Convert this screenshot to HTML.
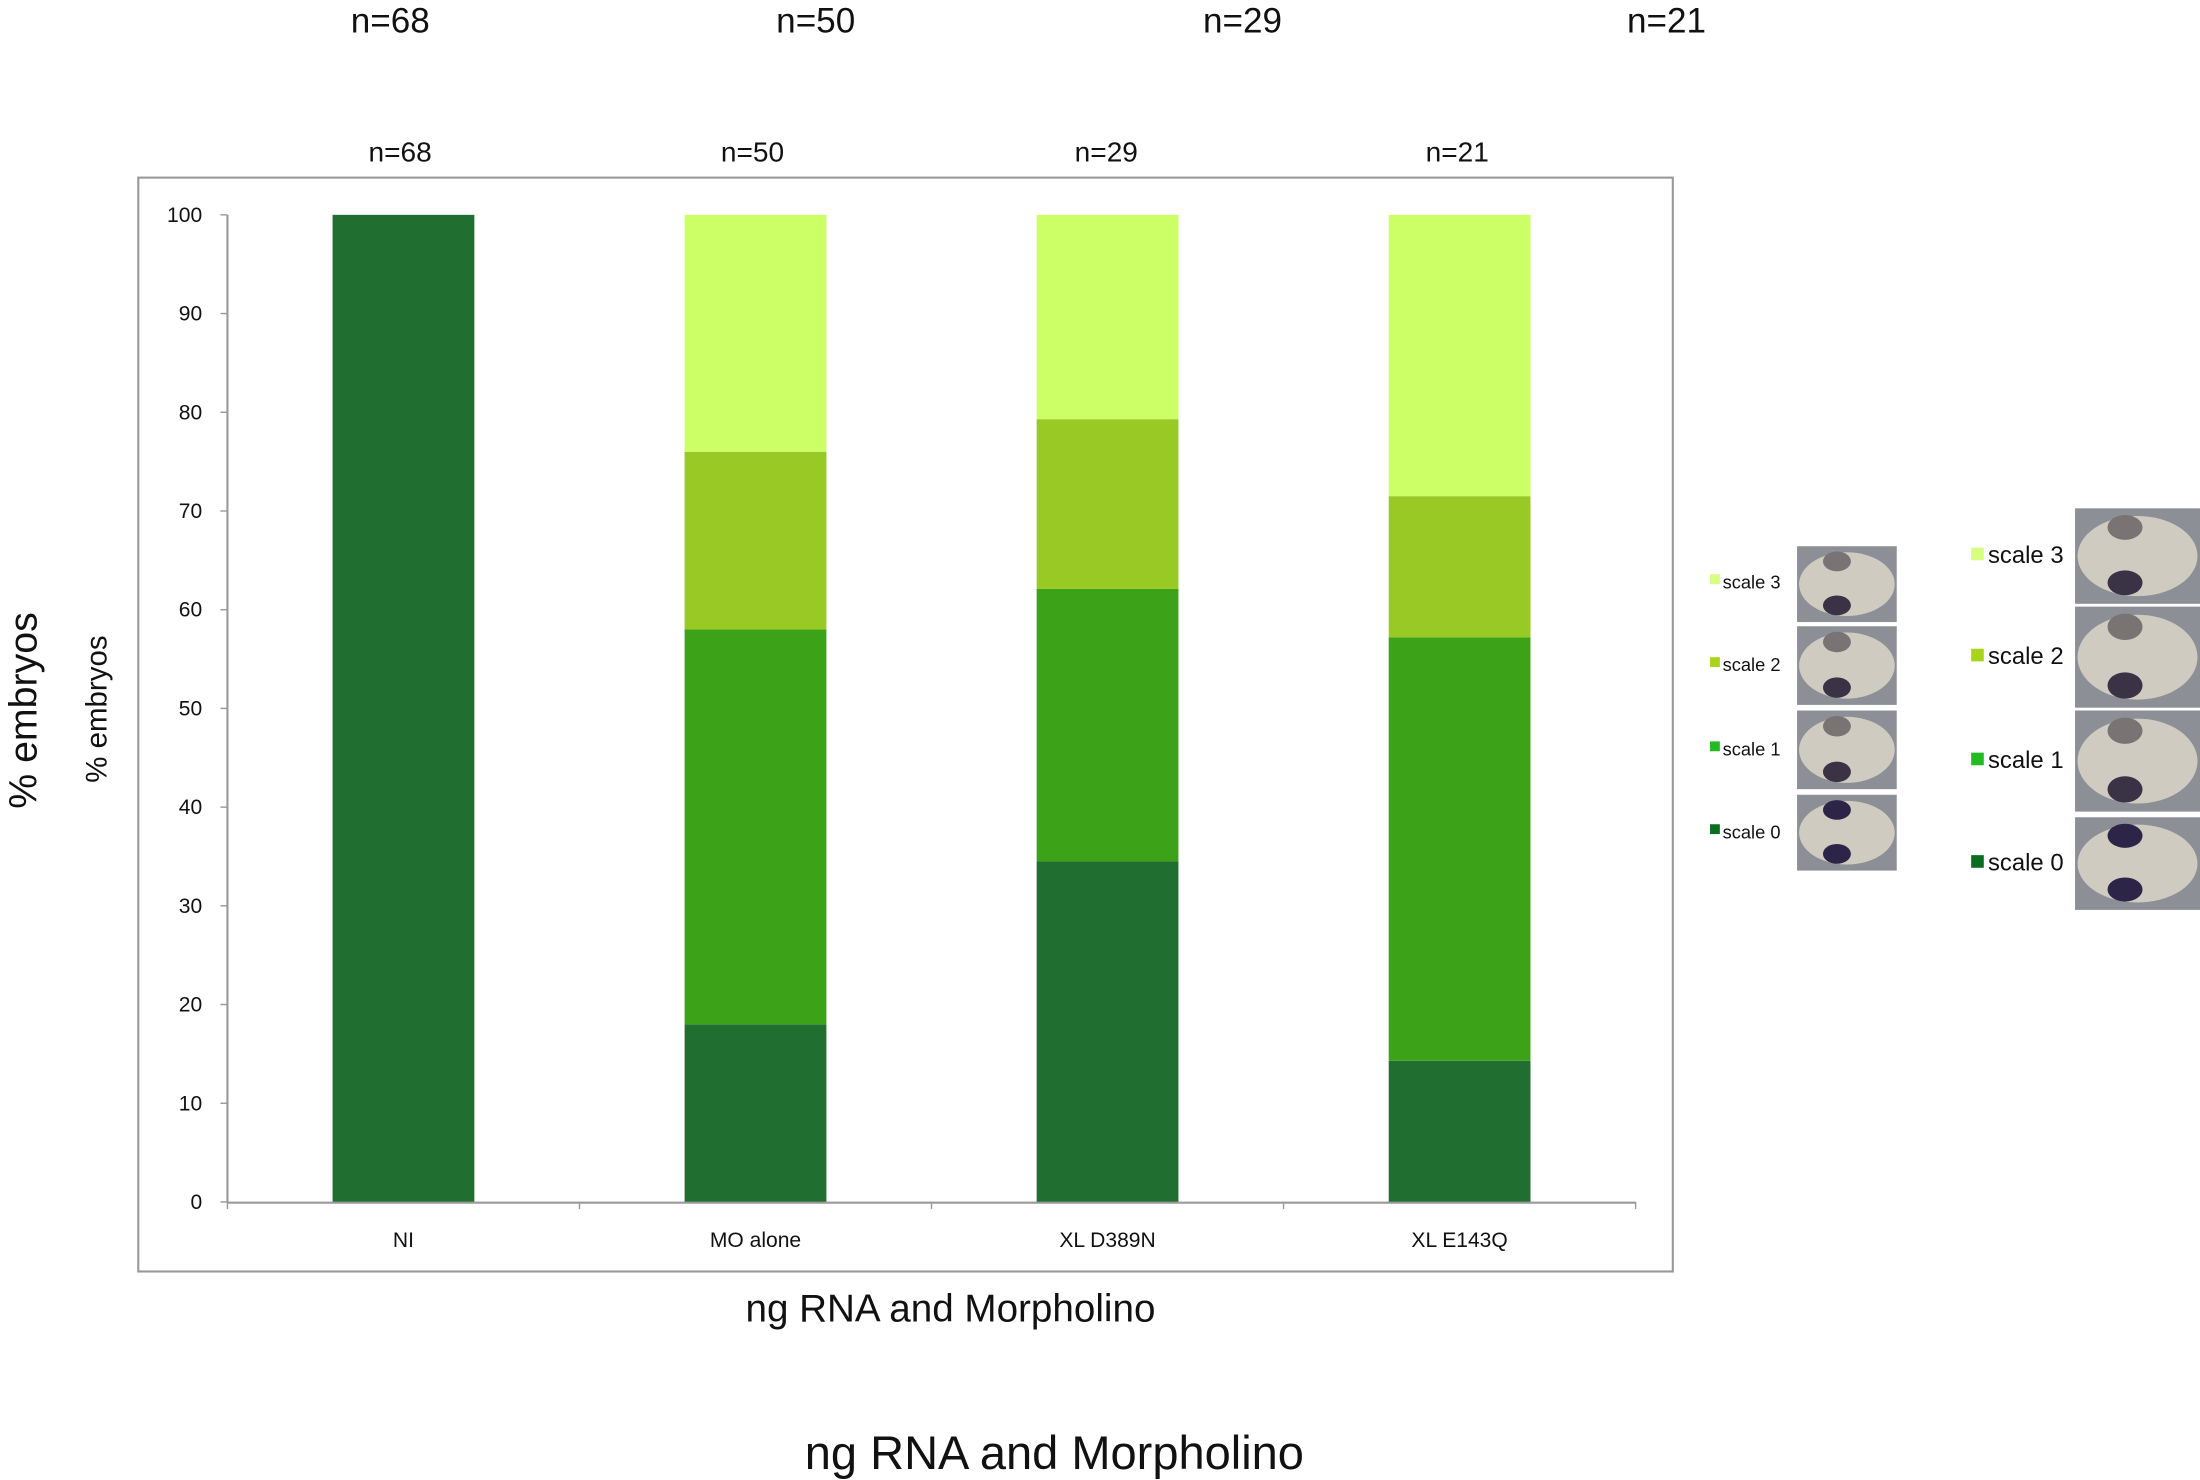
<!DOCTYPE html>
<html><head><meta charset="utf-8"><style>
html,body{margin:0;padding:0;background:#fff;}
svg{display:block;font-family:"Liberation Sans",sans-serif;}
</style></head><body>
<svg id="chart" width="2200" height="1480" viewBox="0 0 1567 1054" preserveAspectRatio="none" xmlns="http://www.w3.org/2000/svg">
<g font-size="25" text-anchor="middle" fill="#111">
<text x="278" y="23">n=68</text>
<text x="581" y="23">n=50</text>
<text x="885" y="23">n=29</text>
<text x="1187" y="23">n=21</text>
</g>
<g font-size="20" text-anchor="middle" fill="#111">
<text x="285" y="115">n=68</text>
<text x="536" y="115">n=50</text>
<text x="788" y="115">n=29</text>
<text x="1038" y="115">n=21</text>
</g>
<rect x="98.5" y="126.5" width="1093" height="779" fill="none" stroke="#999" stroke-width="1.5"/>
<g id="plot"></g>
<text x="677" y="941" font-size="27.5" text-anchor="middle" fill="#111">ng RNA and Morpholino</text>
<text x="751" y="1046" font-size="33.5" text-anchor="middle" fill="#111">ng RNA and Morpholino</text>
<text transform="translate(26,506) rotate(-90)" font-size="28" text-anchor="middle" fill="#111">% embryos</text>
<text transform="translate(76,505) rotate(-90)" font-size="21" text-anchor="middle" fill="#111">% embryos</text>
<g id="legend"></g>
</svg>
<script>
const categories = ["NI","MO alone","XL D389N","XL E143Q"];
const scale0 = [100, 18, 34.5, 14.3];
const scale1 = [0, 40, 27.6, 42.9];
const scale2 = [0, 18, 17.2, 14.3];
const scale3 = [0, 24, 20.7, 28.5];
const yTicks = [0,10,20,30,40,50,60,70,80,90,100];
const seriesNames = ["scale 0","scale 1","scale 2","scale 3"];

const NS = "http://www.w3.org/2000/svg";
const colors = ["#206e30","#3ca318","#98c925","#ccff66"];
const legendColors = ["#0b6e1e","#22bb22","#a8d41c","#d4ff80"];
const x0 = 162, x1 = 1165, yBase = 856, yTop = 153;
const band = (x1 - x0) / categories.length;
const xC = i => x0 + band * (i + 0.5);
const yS = v => yBase - (yBase - yTop) * v / 100;
const plot = document.getElementById('plot');
function mk(tag, attrs, parent){ const e=document.createElementNS(NS,tag); for(const k in attrs) e.setAttribute(k,attrs[k]); parent.appendChild(e); return e; }

const series = [scale0, scale1, scale2, scale3];
categories.forEach((c,i)=>{
  let acc = 0;
  series.forEach((s,si)=>{
    const v = s[i];
    if (v > 0) {
      const r = mk('rect',{x:xC(i)-50.5,y:yS(acc+v),width:101,height:yS(acc)-yS(acc+v),fill:colors[si]},plot);
      
      
    }
    acc += v;
  });
  const t = mk('text',{x:xC(i),y:888,'font-size':15,'text-anchor':'middle',fill:'#111'},plot);
  t.textContent = c;
  
  
});
const ax = mk('line',{x1:x0,y1:yBase+0.5,x2:x1,y2:yBase+0.5,stroke:'#999','stroke-width':1.5},plot);


const ay = mk('line',{x1:x0,y1:yTop,x2:x0,y2:yBase,stroke:'#999','stroke-width':1.5},plot);


for (let i=0;i<=categories.length;i++){
  const tk = mk('line',{x1:x0+band*i,y1:yBase,x2:x0+band*i,y2:yBase+5,stroke:'#999'},plot);
  
  
}
yTicks.forEach(v=>{
  const tk = mk('line',{x1:x0-5,y1:yS(v),x2:x0,y2:yS(v),stroke:'#999'},plot);
  
  
  const t = mk('text',{x:144,y:yS(v)+5,'font-size':15,'text-anchor':'end',fill:'#111'},plot);
  t.textContent = v;
  
  
});

const legend = document.getElementById('legend');
function embryo(x,y,w,h,stage,parent){
  const g = mk('g',{},parent);
  mk('rect',{x:x,y:y,width:w,height:h,fill:'#8d8f96'},g);
  mk('ellipse',{cx:x+w*0.5,cy:y+h*0.5,rx:w*0.48,ry:h*0.42,fill:'#cfcbc0'},g);
  const dark = stage===0 ? '#2c2548' : '#3a3345';
  mk('ellipse',{cx:x+w*0.4,cy:y+h*0.78,rx:w*0.14,ry:h*0.13,fill:dark},g);
  mk('ellipse',{cx:x+w*0.4,cy:y+h*0.2,rx:w*0.14,ry:h*0.13,fill:stage===0?dark:'#7a7373'},g);
  return g;
}
const smallY = [415,474,534,593];
const smallImg = [[389,54],[446,56],[506,56],[566,54]];
const bigY = [395,467,541,614];
const bigImg = [[362,68],[432,72],[506,72],[582,66]];
[3,2,1,0].forEach((s,k)=>{
  const sq = mk('rect',{x:1218,y:smallY[k]-6,width:7,height:7,fill:legendColors[s]},legend);
  
  
  const t = mk('text',{x:1227,y:smallY[k]+4,'font-size':13,fill:'#111'},legend);
  t.textContent = seriesNames[s];
  
  
  const im = embryo(1280,smallImg[k][0],71,smallImg[k][1],s,legend);
  
  
  const sq2 = mk('rect',{x:1404,y:bigY[k]-5,width:9,height:9,fill:legendColors[s]},legend);
  
  
  const t2 = mk('text',{x:1416,y:bigY[k]+6,'font-size':17,fill:'#111'},legend);
  t2.textContent = seriesNames[s];
  
  
  const im2 = embryo(1478,bigImg[k][0],89,bigImg[k][1],s,legend);
  
  
});
</script>
</body></html>
